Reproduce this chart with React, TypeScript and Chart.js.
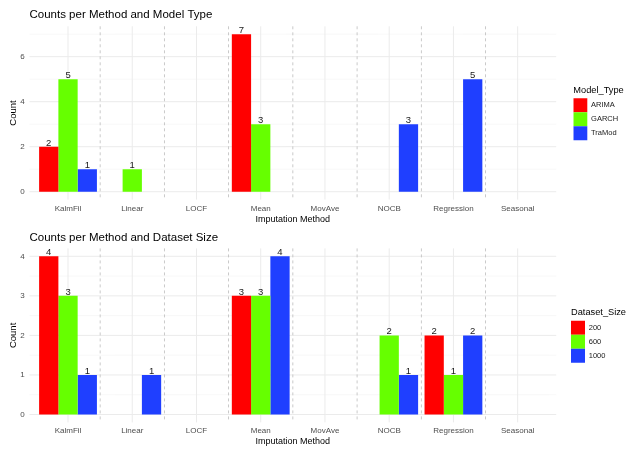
import React, { useEffect, useRef } from "react";
import { Chart, registerables } from "chart.js";

Chart.register(...registerables);

const categories = ["KalmFil", "Linear", "LOCF", "Mean", "MovAve", "NOCB", "Regression", "Seasonal"];

const modelTypes = ["ARIMA", "GARCH", "TraMod"];
const arimaCounts = [2, null, null, 7, null, null, null, null];
const garchCounts = [5, 1, null, 3, null, null, null, null];
const tramodCounts = [1, null, null, null, null, 3, 5, null];

const datasetSizes = ["200", "600", "1000"];
const size200Counts = [4, null, null, 3, null, null, 2, null];
const size600Counts = [3, null, null, 3, null, 2, 1, null];
const size1000Counts = [1, 1, null, 4, null, 1, 2, null];

const topTicks = [0, 2, 4, 6];
const topMinorTicks = [1, 3, 5, 7];
const bottomTicks = [0, 1, 2, 3, 4];
const bottomMinorTicks = [0.5, 1.5, 2.5, 3.5];

const fillColors = ["#FF0000", "#66FF00", "#1F3FFF"];
const FONT = "'Liberation Sans', Arial, Helvetica, sans-serif";

type PanelSpec = {
  title: string;
  titleY: number;
  legendTitle: string;
  names: string[];
  series: (number | null)[][];
  ticks: number[];
  minor: number[];
  ymin: number;
  ymax: number;
  padTop: number;
  padBottom: number;
  padRight: number;
  spacer: number;
};

function decorPlugin(spec: PanelSpec) {
  return {
    id: "panelDecor",
    afterLayout(chart: any) {
      // widen the legend's clip box so its title is not cut off
      const lg = chart.legend;
      if (lg) {
        lg.right = chart.width;
        lg.width = lg.right - lg.left;
      }
    },
    beforeDatasetsDraw(chart: any) {
      const { ctx, chartArea: ca, scales } = chart;
      const x = scales.x;
      const y = scales.y;
      const cw = x.getPixelForValue(1) - x.getPixelForValue(0);
      const L = ca.left - 0.1 * cw;
      const R = ca.right + 0.1 * cw;
      const line = (x1: number, y1: number, x2: number, y2: number) => {
        ctx.beginPath();
        ctx.moveTo(x1, y1);
        ctx.lineTo(x2, y2);
        ctx.stroke();
      };
      ctx.save();
      ctx.strokeStyle = "#F3F3F3";
      ctx.lineWidth = 0.6;
      spec.minor.forEach((v) => {
        const py = y.getPixelForValue(v);
        line(L, py, R, py);
      });
      ctx.strokeStyle = "#EBEBEB";
      ctx.lineWidth = 1;
      spec.ticks.forEach((v) => {
        const py = y.getPixelForValue(v);
        line(L, py, R, py);
      });
      categories.forEach((_, i) => {
        const px = x.getPixelForValue(i);
        line(px, ca.top, px, ca.bottom);
      });
      ctx.setLineDash([3, 3]);
      ctx.strokeStyle = "#BDBDBD";
      ctx.lineWidth = 0.8;
      for (let i = 0; i < categories.length - 1; i++) {
        const px = (x.getPixelForValue(i) + x.getPixelForValue(i + 1)) / 2;
        line(px, ca.top, px, ca.bottom);
      }
      ctx.restore();
    },
    afterDatasetsDraw(chart: any) {
      const { ctx } = chart;
      ctx.save();
      ctx.font = `9.5px ${FONT}`;
      ctx.fillStyle = "#1A1A1A";
      ctx.textAlign = "center";
      ctx.textBaseline = "alphabetic";
      chart.data.datasets.forEach((ds: any, i: number) => {
        const meta = chart.getDatasetMeta(i);
        meta.data.forEach((el: any, j: number) => {
          const v = ds.data[j];
          if (v === null || v === undefined) return;
          ctx.fillText(String(v), el.x, el.y - 1);
        });
      });
      ctx.restore();
    },
    afterDraw(chart: any) {
      const { ctx, chartArea: ca, scales } = chart;
      const x = scales.x;
      const cw = x.getPixelForValue(1) - x.getPixelForValue(0);
      ctx.save();
      ctx.font = `11.5px ${FONT}`;
      ctx.fillStyle = "#000000";
      ctx.textAlign = "left";
      ctx.textBaseline = "middle";
      ctx.fillText(spec.title, ca.left - 0.1 * cw, spec.titleY);
      ctx.restore();
    },
  };
}

function makeConfig(spec: PanelSpec): any {
  return {
    type: "bar",
    data: {
      labels: categories,
      datasets: spec.series.map((data, i) => ({
        label: spec.names[i],
        data,
        backgroundColor: fillColors[i],
        borderWidth: 0,
        categoryPercentage: 0.9,
        barPercentage: 1.0,
      })),
    },
    options: {
      responsive: false,
      animation: false,
      events: [],
      layout: {
        autoPadding: false,
        padding: { left: 0, top: spec.padTop, right: spec.padRight, bottom: spec.padBottom },
      },
      scales: {
        x: {
          type: "category",
          offset: true,
          grid: { display: false, drawTicks: false, tickLength: 0 },
          border: { display: false },
          ticks: { font: { size: 8, family: FONT }, color: "#4D4D4D", padding: 4, maxRotation: 0, autoSkip: false },
          title: {
            display: true,
            text: "Imputation Method",
            color: "#000000",
            font: { size: 9, family: FONT },
            padding: { top: 0, bottom: 0.4 },
          },
          afterFit: (s: any) => {
            s.height = 25.4;
          },
        },
        y: {
          type: "linear",
          min: spec.ymin,
          max: spec.ymax,
          grid: { display: false, drawTicks: false, tickLength: 0 },
          border: { display: false },
          afterBuildTicks: (s: any) => {
            s.ticks = spec.ticks.map((v) => ({ value: v }));
          },
          ticks: { font: { size: 8, family: FONT }, color: "#4D4D4D", padding: 11.2 },
          title: {
            display: true,
            text: "Count",
            color: "#000000",
            font: { size: 9.5, family: FONT },
            padding: { top: 7.3, bottom: 0 },
          },
          afterFit: (s: any) => {
            s.width = 35.9;
          },
        },
        spacer: {
          type: "linear",
          position: "right",
          display: true,
          grid: { display: false, drawTicks: false },
          border: { display: false },
          ticks: { display: false },
          title: { display: false },
          afterFit: (s: any) => {
            s.width = spec.spacer;
          },
        },
      },
      plugins: {
        tooltip: { enabled: false },
        title: { display: false },
        legend: {
          position: "right",
          fullSize: false,
          maxWidth: 40,
          title: {
            display: true,
            text: spec.legendTitle,
            color: "#000000",
            font: { size: 9.25, family: FONT },
            padding: { top: 0, bottom: 1.6 },
            position: "start",
          },
          labels: {
            boxWidth: 14,
            boxHeight: 14,
            padding: 0,
            color: "#1A1A1A",
            font: { size: 7.5, family: FONT },
          },
        },
      },
    },
    plugins: [decorPlugin(spec)],
  };
}

const topSpec: PanelSpec = {
  title: "Counts per Method and Model Type",
  titleY: 15,
  legendTitle: "Model_Type",
  names: modelTypes,
  series: [arimaCounts, garchCounts, tramodCounts],
  ticks: topTicks,
  minor: topMinorTicks,
  ymin: -0.35,
  ymax: 7.35,
  padTop: 26.3,
  padBottom: 0,
  padRight: 26.7,
  spacer: 23.5,
};

const bottomSpec: PanelSpec = {
  title: "Counts per Method and Dataset Size",
  titleY: 12.5,
  legendTitle: "Dataset_Size",
  names: datasetSizes,
  series: [size200Counts, size600Counts, size1000Counts],
  ticks: bottomTicks,
  minor: bottomMinorTicks,
  ymin: -0.2,
  ymax: 4.2,
  padTop: 23.4,
  padBottom: 8.2,
  padRight: 29,
  spacer: 21.2,
};

function Panel({ spec, height }: { spec: PanelSpec; height: number }) {
  const ref = useRef<HTMLCanvasElement | null>(null);
  useEffect(() => {
    if (!ref.current) return;
    const chart = new Chart(ref.current, makeConfig(spec));
    return () => chart.destroy();
  }, [spec]);
  return <canvas ref={ref} width={640} height={height} style={{ display: "block", width: 640, height }} />;
}

export default function App() {
  Chart.defaults.font.family = FONT;
  return (
    <div style={{ position: "absolute", left: 0, top: 0, width: 640, height: 456, background: "#FFFFFF" }}>
      <Panel spec={topSpec} height={225} />
      <Panel spec={bottomSpec} height={231} />
    </div>
  );
}
